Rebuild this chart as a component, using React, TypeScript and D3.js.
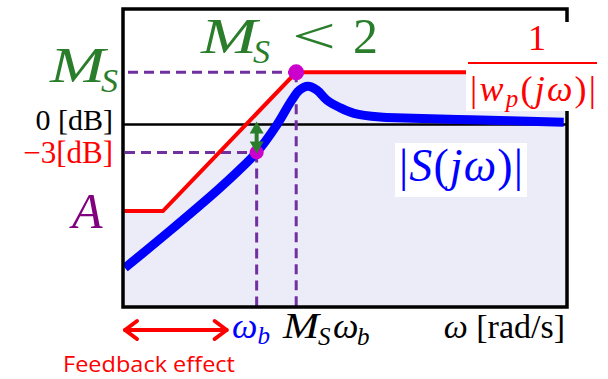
import React from "react";
import * as d3 from "d3";

const W = 608;
const H = 379;

// Axes: frequency on a log scale (rad/s), magnitude in dB
const OMEGA_DOMAIN: [number, number] = [0.1, 100];
const DB_DOMAIN: [number, number] = [-19.6, 12.4];

// Characteristic values of the specification
const OMEGA_B = 0.8;
const MS_OMEGA_B = 1.48;
const MS_DB = 5.6;
const A_DB = -9.3;
const BW_DB = -3;

// Performance bound 1/|w_p(jω)|
const boundOmega = [0.1, 0.186, MS_OMEGA_B, 100];
const boundDb = [A_DB, A_DB, MS_DB, MS_DB];

// Sensitivity magnitude |S(jω)|
const sOmega = [0.103, 0.208, 0.431, 0.6, 0.8, 1.1, 1.38, 1.56, 1.77, 2.04, 2.39, 2.93, 3.64, 5.45, 7.92, 22.5, 95];
const sDb = [-15.4, -11.4, -7.1, -5.0, -3.0, 0, 2.6, 3.7, 4.1, 3.7, 2.6, 1.8, 1.2, 0.8, 0.7, 0.5, 0.25];

const PLOT = { left: 123, right: 567, top: 9, bottom: 307 };

const RED = "#ff0000";
const BLUE = "#0000ff";
const GREEN = "#2a7d2a";
const PURPLE = "#7030a0";
const MAGENTA = "#cc00cc";
const SHADE = "#ececf8";
const SERIF = "'Liberation Serif', 'DejaVu Serif', serif";

export default function App() {
  const x = d3.scaleLog().domain(OMEGA_DOMAIN).range([PLOT.left, PLOT.right]);
  const y = d3.scaleLinear().domain(DB_DOMAIN).range([PLOT.bottom, PLOT.top]);

  const bound = boundOmega.map((w, i) => [w, boundDb[i]] as [number, number]);
  const sens = sOmega.map((w, i) => [w, sDb[i]] as [number, number]);

  const boundLine = d3.line<[number, number]>().x((d) => x(d[0])).y((d) => y(d[1]));
  const boundArea = d3
    .area<[number, number]>()
    .x((d) => x(d[0]))
    .y0(PLOT.bottom)
    .y1((d) => y(d[1]));
  const sensLine = d3
    .line<[number, number]>()
    .x((d) => x(d[0]))
    .y((d) => y(d[1]))
    .curve(d3.curveCatmullRom.alpha(0.5));

  const xb = x(OMEGA_B);
  const xm = x(MS_OMEGA_B);
  const y0 = y(0);
  const y3 = y(BW_DB);
  const yMs = y(MS_DB);
  const dash = "10 6";

  return (
    <svg width={W} height={H} viewBox={`0 0 ${W} ${H}`} style={{ display: "block", position: "absolute", left: 0, top: 0 }}>
      <rect width={W} height={H} fill="#ffffff" />
      {/* region allowed by the bound */}
      <path d={boundArea(bound) || ""} fill={SHADE} />

      {/* 0 dB reference */}
      <line x1={PLOT.left} x2={PLOT.right} y1={y0} y2={y0} stroke="#000" strokeWidth={2.5} />

      {/* guide lines for M_S, -3 dB, ω_b and M_S ω_b */}
      <g stroke={PURPLE} strokeWidth={3} strokeDasharray={dash} fill="none">
        <line x1={PLOT.left + 5} x2={xm} y1={yMs} y2={yMs} />
        <line x1={PLOT.left + 2} x2={xb} y1={y3} y2={y3} />
        <line x1={xb} x2={xb} y1={y3} y2={PLOT.bottom} />
        <line x1={xm} x2={xm} y1={yMs} y2={PLOT.bottom} />
      </g>

      <path d={boundLine(bound) || ""} fill="none" stroke={RED} strokeWidth={4} />
      <path d={sensLine(sens) || ""} fill="none" stroke={BLUE} strokeWidth={9} />

      {/* frame */}
      <rect
        x={PLOT.left}
        y={PLOT.top}
        width={PLOT.right - PLOT.left}
        height={PLOT.bottom - PLOT.top}
        fill="none"
        stroke="#000"
        strokeWidth={3.5}
      />

      {/* label for the bound */}
      <rect x={466} y={22} width={134} height={89} fill="#ffffff" />
      <g fill={RED} fontFamily={SERIF}>
        <text x={537} y={50} fontSize={36} textAnchor="middle">1</text>
        <line x1={468} x2={597} y1={63} y2={63} stroke={RED} strokeWidth={2} />
        <text x={470} y={101} fontSize={36} textLength={126} lengthAdjust="spacing">
          <tspan>|</tspan>
          <tspan fontStyle="italic">w</tspan>
          <tspan fontStyle="italic" fontSize={25} dy={6}>p</tspan>
          <tspan dy={-6}>(</tspan>
          <tspan fontStyle="italic">jω</tspan>
          <tspan>)|</tspan>
        </text>
      </g>

      {/* label for |S(jω)| */}
      <rect x={395} y={143} width={132} height={54} fill="#ffffff" />
      <text x={399} y={181} fontSize={46} fill={BLUE} fontFamily={SERIF} textLength={124} lengthAdjust="spacing">
        <tspan>|</tspan>
        <tspan fontStyle="italic">S</tspan>
        <tspan>(</tspan>
        <tspan fontStyle="italic">jω</tspan>
        <tspan>)|</tspan>
      </text>

      {/* markers */}
      <circle cx={xm} cy={yMs} r={8} fill={MAGENTA} />
      <circle cx={xb} cy={y3} r={7} fill={MAGENTA} />

      {/* -3 dB gap arrow */}
      <g fill={GREEN} stroke="none">
        <line x1={xb} x2={xb} y1={y0 + 6} y2={y3 - 6} stroke={GREEN} strokeWidth={4} />
        <path d={`M${xb},${y0 - 3} L${xb - 7},${y0 + 9} L${xb + 7},${y0 + 9} Z`} />
        <path d={`M${xb},${y3 + 1} L${xb - 7},${y3 - 11} L${xb + 7},${y3 - 11} Z`} />
      </g>

      {/* vertical axis labels */}
      <g fill={GREEN} fontFamily={SERIF} fontStyle="italic">
        <text x={50} y={82} fontSize={50} textLength={55} lengthAdjust="spacingAndGlyphs">M</text>
        <text x={101} y={92} fontSize={34}>S</text>
      </g>
      <text x={113} y={130} fill="#000" fontFamily={SERIF} fontSize={30} textAnchor="end">0 [dB]</text>
      <text x={113} y={163} fill={RED} fontFamily={SERIF} fontSize={31} textAnchor="end">−3[dB]</text>
      <text x={72} y={228} fill="#800080" fontFamily={SERIF} fontSize={50} fontStyle="italic">A</text>

      {/* specification */}
      <g fill={GREEN} fontFamily={SERIF}>
        <text x={201} y={53} fontSize={50} fontStyle="italic" textLength={56} lengthAdjust="spacingAndGlyphs">M</text>
        <text x={253} y={63} fontSize={34} fontStyle="italic">S</text>
        <text x={292} y={53} fontSize={50} textLength={44} lengthAdjust="spacingAndGlyphs">&lt;</text>
        <text x={353} y={53} fontSize={50}>2</text>
      </g>

      {/* frequency axis labels */}
      <text x={232} y={338} fill={BLUE} fontFamily={SERIF} fontSize={36} fontStyle="italic">
        ω<tspan fontSize={25} dy={6}>b</tspan>
      </text>
      <g fill="#000" fontFamily={SERIF} fontStyle="italic">
        <text x={283} y={338} fontSize={36} textLength={36} lengthAdjust="spacingAndGlyphs">M</text>
        <text x={318} y={345} fontSize={25}>S</text>
        <text x={333} y={338} fontSize={36}>ω</text>
        <text x={357} y={345} fontSize={25}>b</text>
      </g>
      <text x={565} y={338} fill="#000" fontFamily={SERIF} fontSize={34} textAnchor="end">
        <tspan fontStyle="italic">ω</tspan>
        <tspan> [rad/s]</tspan>
      </text>

      {/* feedback effect range */}
      <g stroke={RED} strokeWidth={4} fill="none" strokeLinecap="round" strokeLinejoin="round">
        <line x1={PLOT.left + 2} x2={xb - 30} y1={330} y2={330} />
        <polyline points={`${PLOT.left + 14},321 ${PLOT.left + 2},330 ${PLOT.left + 14},339`} />
        <polyline points={`${xb - 42},321 ${xb - 30},330 ${xb - 42},339`} />
      </g>
      <text x={63} y={372} fill={RED} fontFamily="'Open Sans', 'Noto Sans', sans-serif" fontSize={21} textLength={172} lengthAdjust="spacingAndGlyphs">
        Feedback effect
      </text>
    </svg>
  );
}
